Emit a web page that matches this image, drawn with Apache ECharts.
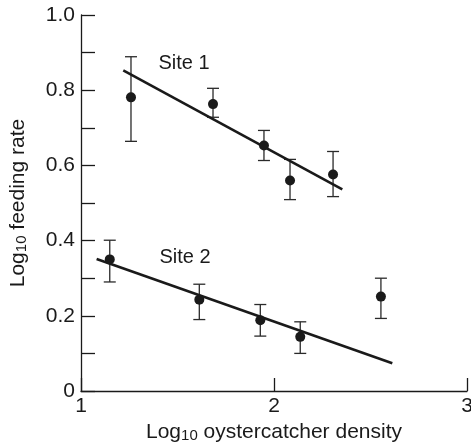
<!DOCTYPE html>
<html>
<head>
<meta charset="utf-8">
<script src="https://cdn.jsdelivr.net/npm/echarts@6/dist/echarts.min.js"></script>
<style>
  html, body { margin: 0; padding: 0; background: #fff; }
  #chart { width: 471px; height: 444px; }
</style>
</head>
<body>
<div id="chart"></div>
<script>
// Site 1 observations: log10 density, mean log10 feeding rate, error bar limits
const site1X = [1.259, 1.684, 1.948, 2.083, 2.306];
const site1Y = [0.781, 0.763, 0.653, 0.560, 0.576];
const site1Hi = [0.889, 0.805, 0.693, 0.616, 0.637];
const site1Lo = [0.664, 0.728, 0.613, 0.509, 0.517];

// Site 2 observations
const site2X = [1.149, 1.613, 1.929, 2.136, 2.554];
const site2Y = [0.350, 0.243, 0.188, 0.144, 0.251];
const site2Hi = [0.401, 0.284, 0.230, 0.184, 0.300];
const site2Lo = [0.290, 0.190, 0.146, 0.100, 0.193];

// Fitted regression lines (start and end points)
const fit1X = [1.219, 2.354];
const fit1Y = [0.853, 0.536];
const fit2X = [1.081, 2.613];
const fit2Y = [0.351, 0.074];

// Site labels anchored in data space
const siteLabels = ['Site 1', 'Site 2'];
const siteLabelX = [1.534, 1.539];
const siteLabelY = [0.872, 0.355];

const yTickLabels = { '0': '0', '0.2': '0.2', '0.4': '0.4', '0.6': '0.6', '0.8': '0.8', '1': '1.0' };

const ink = '#1a1a1a';
const fontFamily = '"Liberation Sans", Arial, sans-serif';

const zip = (xs, ys) => xs.map((x, i) => [x, ys[i]]);
const errData = (xs, lo, hi) => xs.map((x, i) => [x, lo[i], hi[i]]);

function renderErr(params, api) {
  const x = api.value(0);
  const lo = api.coord([x, api.value(1)]);
  const hi = api.coord([x, api.value(2)]);
  const cap = 6;
  const style = { stroke: '#2a2a2a', lineWidth: 1.3 };
  return {
    type: 'group',
    children: [
      { type: 'line', shape: { x1: lo[0], y1: lo[1], x2: hi[0], y2: hi[1] }, style },
      { type: 'line', shape: { x1: hi[0] - cap, y1: hi[1], x2: hi[0] + cap, y2: hi[1] }, style },
      { type: 'line', shape: { x1: lo[0] - cap, y1: lo[1], x2: lo[0] + cap, y2: lo[1] }, style }
    ]
  };
}

const chart = echarts.init(document.getElementById('chart'), null, { renderer: 'canvas' });

const titleRich = {
  a: { fontSize: 21, fontFamily, color: ink },
  b: { fontSize: 15, fontFamily, color: ink, verticalAlign: 'bottom' }
};

chart.setOption({
  animation: false,
  backgroundColor: '#fff',
  grid: { left: 81, top: 15, right: 4, bottom: 53, containLabel: false, outerBoundsMode: 'none' },
  xAxis: {
    type: 'value', min: 1, max: 3, interval: 1,
    name: '{a|Log}{b|10}{a| oystercatcher density}',
    nameLocation: 'middle', nameGap: 27,
    nameTextStyle: { rich: titleRich },
    axisLine: { lineStyle: { color: ink, width: 1.3 } },
    axisTick: { inside: true, length: 13, lineStyle: { color: ink, width: 1.3 } },
    axisLabel: { color: ink, fontSize: 21, fontFamily, margin: 5, showMaxLabel: true },
    splitLine: { show: false }
  },
  yAxis: {
    type: 'value', min: 0, max: 1, interval: 0.1,
    name: '{a|Log}{b|10}{a| feeding rate}',
    nameLocation: 'middle', nameGap: 52, nameRotate: 90,
    nameTextStyle: { rich: titleRich },
    axisLine: { lineStyle: { color: ink, width: 1.3 } },
    axisTick: { inside: true, length: 14, lineStyle: { color: ink, width: 1.3 } },
    axisLabel: {
      color: ink, fontSize: 21, fontFamily, margin: 6,
      formatter: v => yTickLabels[String(+v.toFixed(1))] || ''
    },
    splitLine: { show: false }
  },
  series: [
    { type: 'custom', renderItem: renderErr, data: errData(site1X, site1Lo, site1Hi), z: 2 },
    { type: 'custom', renderItem: renderErr, data: errData(site2X, site2Lo, site2Hi), z: 2 },
    { type: 'line', data: zip(fit1X, fit1Y), symbol: 'none', lineStyle: { color: ink, width: 2.6 }, z: 3 },
    { type: 'line', data: zip(fit2X, fit2Y), symbol: 'none', lineStyle: { color: ink, width: 2.6 }, z: 3 },
    { type: 'scatter', data: zip(site1X, site1Y), symbolSize: 10, itemStyle: { color: ink, opacity: 1 }, z: 4 },
    { type: 'scatter', data: zip(site2X, site2Y), symbolSize: 10, itemStyle: { color: ink, opacity: 1 }, z: 4 },
    {
      type: 'scatter', symbolSize: 0, z: 5,
      itemStyle: { opacity: 1 },
      data: siteLabels.map((t, i) => ({ value: [siteLabelX[i], siteLabelY[i]], name: t })),
      label: { show: true, position: 'inside', formatter: p => p.name, color: ink, fontSize: 20, fontFamily }
    }
  ]
});
</script>
</body>
</html>
